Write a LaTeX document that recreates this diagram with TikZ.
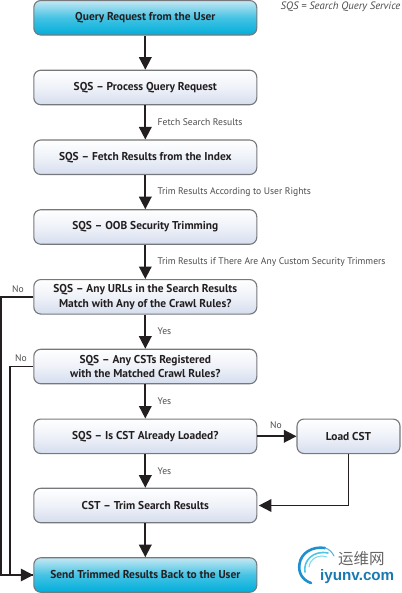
\documentclass[tikz,border=0pt]{standalone}
\usepackage{fontspec}
\setmainfont{PT Sans}
\newfontfamily\cjk{Noto Sans CJK SC}
\newfontfamily\wm{Liberation Sans}
\usetikzlibrary{arrows.meta,calc}
\definecolor{boxedge}{HTML}{77787B}
\definecolor{txt}{HTML}{231F20}
\definecolor{lab}{HTML}{4D4D4F}
\definecolor{lav}{HTML}{D5DDEE}
\definecolor{cyanb}{HTML}{00AEDB}
\definecolor{cyant}{HTML}{C4E8F3}
\definecolor{wmblue}{HTML}{1E8FD0}
\tikzset{
 x=1pt,y=-1pt,
 base/.style={draw=boxedge,line width=1.1pt,rounded corners=7pt,align=center,text=txt,
   font=\bfseries\fontsize{11.4}{14.6}\selectfont,inner sep=0pt},
 rim/.style={append after command={
   \pgfextra{\draw[white,opacity=.55,line width=1pt,rounded corners=5.5pt]
     ($(\tikzlastnode.north west)+(1.8,1.8)$) rectangle ($(\tikzlastnode.south east)+(-1.8,-1.8)$);}}},
 proc/.style={base,rim,minimum width=223pt,minimum height=34.5pt,top color=white,bottom color=lav,middle color=lav!40!white},
 term/.style={base,rim,minimum width=223pt,minimum height=34.5pt,top color=cyant,bottom color=cyanb,middle color=cyanb!65!cyant},
 small/.style={proc,minimum width=103pt},
 wire/.style={draw=txt,line width=1.8pt},
 arr/.style={wire,-{Triangle[length=12.5pt,width=12.5pt]}},
 lbl/.style={text=lab,font=\fontsize{9.6}{11}\selectfont,inner sep=0pt,anchor=west},
}
\begin{document}
\begin{tikzpicture}
\useasboundingbox (0,0) rectangle (401,593);
\fill[white] (0,0) rectangle (401,593);
\node[term] (n1) at (145.3,17.8) {Query Request from the User};
\node[proc] (n2) at (145.3,87.5) {SQS – Process Query Request};
\node[proc] (n3) at (145.3,157.3) {SQS – Fetch Results from the Index};
\node[proc] (n4) at (145.3,227) {SQS – OOB Security Trimming};
\node[proc] (n5) at (145.3,296.8) {SQS – Any URLs in the Search Results\\Match with Any of the Crawl Rules?};
\node[proc] (n6) at (145.3,366.5) {SQS – Any CSTs Registered\\with the Matched Crawl Rules?};
\node[proc] (n7) at (145.3,436.3) {SQS – Is CST Already Loaded?};
\node[small] (n8) at (348.5,436.3) {Load CST};
\node[proc] (n9) at (145.3,505.5) {CST – Trim Search Results};
\node[term] (n10) at (145.3,575) {Send Trimmed Results Back to the User};

\foreach \a/\b in {n1/n2,n2/n3,n3/n4,n4/n5,n5/n6,n6/n7,n7/n9,n9/n10}{
  \draw[arr] (\a.south) -- (\b.north);
}
\draw[arr] (n7.east) -- (n8.west);
\draw[arr] (n8.south) |- ($(n9.east)+(1.5,0)$);
\coordinate (c5) at (1,296.8);
\coordinate (c6) at (10,366.5);
\coordinate (e10) at (33,575);
\draw[wire] (n5.west) -- (c5) -- (c5|-e10) -- (e10);
\draw[wire] (n6.west) -- (c6) -- (c6|-e10);
\draw[arr] (c6|-e10) -- (n10.west);

\node[lbl] (t0) at (280.5,6.5) {\itshape\fontsize{10.7}{12}\selectfont SQS = Search Query Service};
\node[lbl] (t1) at (157.5,122.5) {Fetch Search Results};
\node[lbl] (t2) at (157.5,192) {Trim Results According to User Rights};
\node[lbl] (t3) at (157.5,262) {Trim Results if There Are Any Custom Security Trimmers};
\node[lbl] (t4) at (157.5,331.5) {Yes};
\node[lbl] (t5) at (157.5,401.5) {Yes};
\node[lbl] (t6) at (157.5,471) {Yes};
\node[lbl] (t7) at (12,289.5) {No};
\node[lbl] (t8) at (15,358.5) {No};
\node[lbl] (t9) at (270,425.5) {No};

% watermark
\draw[wmblue,line width=2.6pt,line cap=round] (311,583) .. controls (302,580) and (298,572) .. (299.5,564) .. controls (301,553) and (312,546) .. (325,548);
\draw[wmblue!70,line width=1.1pt,line cap=round] (325,548) .. controls (329,549) and (332,552) .. (334,556);
\draw[cyanb!70,line width=1.6pt,line cap=round] (305,572) .. controls (303,561) and (313,550) .. (328,553);
\draw[cyanb!50,line width=1pt,line cap=round] (309,567) .. controls (310,559) and (318,554) .. (327,557);
\node[inner sep=0pt,anchor=west,text=black!60] (w1) at (338,559) {\cjk\fontsize{15.5}{17}\selectfont 运维网};
\node[inner sep=0pt,anchor=west,text=wmblue!85!black] (w2) at (320,577) {\wm\bfseries\fontsize{15.2}{17}\selectfont iyunv.com};
\end{tikzpicture}
\end{document}
